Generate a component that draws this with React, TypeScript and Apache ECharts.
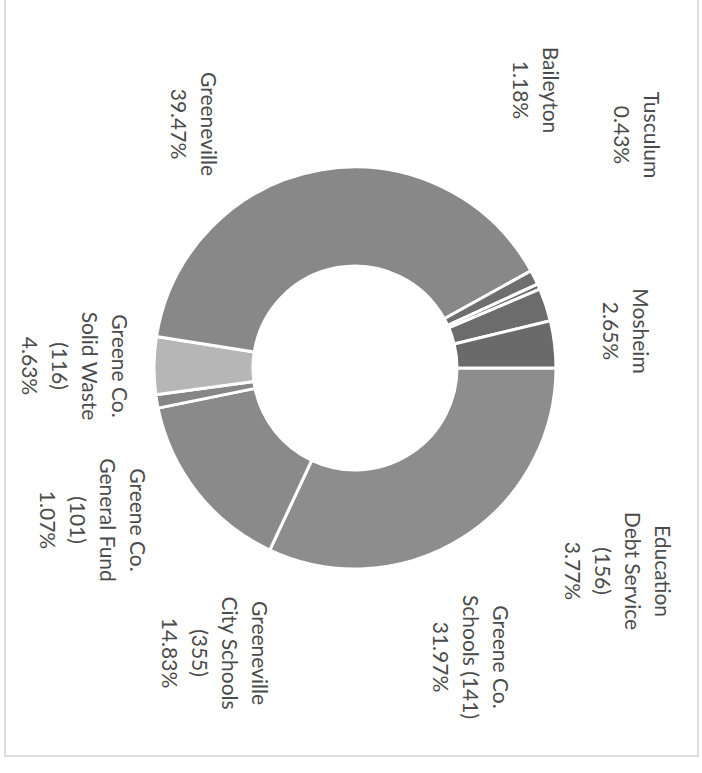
import React, { useEffect, useRef } from "react";
import * as echarts from "echarts";

// Data (clockwise from the first slice)
const names = [
  "Greene Co.\nSchools (141)",
  "Greeneville\nCity Schools\n(355)",
  "Greene Co.\nGeneral Fund\n(101)",
  "Greene Co.\nSolid Waste\n(116)",
  "Greeneville",
  "Baileyton",
  "Tusculum",
  "Mosheim",
  "Education\nDebt Service\n(156)",
];
const shares = [31.97, 14.83, 1.07, 4.63, 39.47, 1.18, 0.43, 2.65, 3.77];

// Styles / layout (kept separate from data)
const sliceColors = [
  "#8d8d8d",
  "#8a8a8a",
  "#868686",
  "#b6b6b6",
  "#888888",
  "#6e6e6e",
  "#6a6a6a",
  "#6c6c6c",
  "#6a6a6a",
];
const labelCenters: [number, number][] = [
  [471, 657],
  [215, 653],
  [93, 520],
  [75, 366],
  [194, 124],
  [536, 90],
  [637, 135],
  [626, 331],
  [618, 571],
];

export default function App() {
  const ref = useRef<HTMLDivElement>(null);
  useEffect(() => {
    if (!ref.current) return;
    const chart = echarts.init(ref.current, undefined, { renderer: "svg" });
    const labelTexts = names.map((n, i) => ({
      type: "text",
      x: labelCenters[i][0],
      y: labelCenters[i][1],
      rotation: -Math.PI / 2,
      silent: true,
      style: {
        text: `${n}\n${shares[i].toFixed(2)}%`,
        fill: "#4a4a4a",
        fontFamily: "Lato",
        fontSize: 21,
        lineHeight: 30,
        align: "center",
        verticalAlign: "middle",
      },
    }));
    chart.setOption({
      animation: false,
      backgroundColor: "#ffffff",
      graphic: [
        {
          type: "polyline",
          silent: true,
          shape: {
            points: [
              [5, 0],
              [5, 756],
              [698, 756],
              [698, 0],
            ],
          },
          style: { stroke: "#d2d2d2", lineWidth: 1.5, fill: "none" },
        },
        ...labelTexts,
      ],
      series: [
        {
          type: "pie",
          center: [355, 368],
          radius: [102, 201],
          startAngle: 0,
          clockwise: true,
          silent: true,
          label: { show: false },
          labelLine: { show: false },
          itemStyle: { borderColor: "#ffffff", borderWidth: 3 },
          data: shares.map((v, i) => ({
            name: names[i],
            value: v,
            itemStyle: { color: sliceColors[i] },
          })),
        },
      ],
    });
    return () => chart.dispose();
  }, []);
  return (
    <div
      ref={ref}
      style={{ position: "fixed", left: 0, top: 0, width: 702, height: 773 }}
    />
  );
}
